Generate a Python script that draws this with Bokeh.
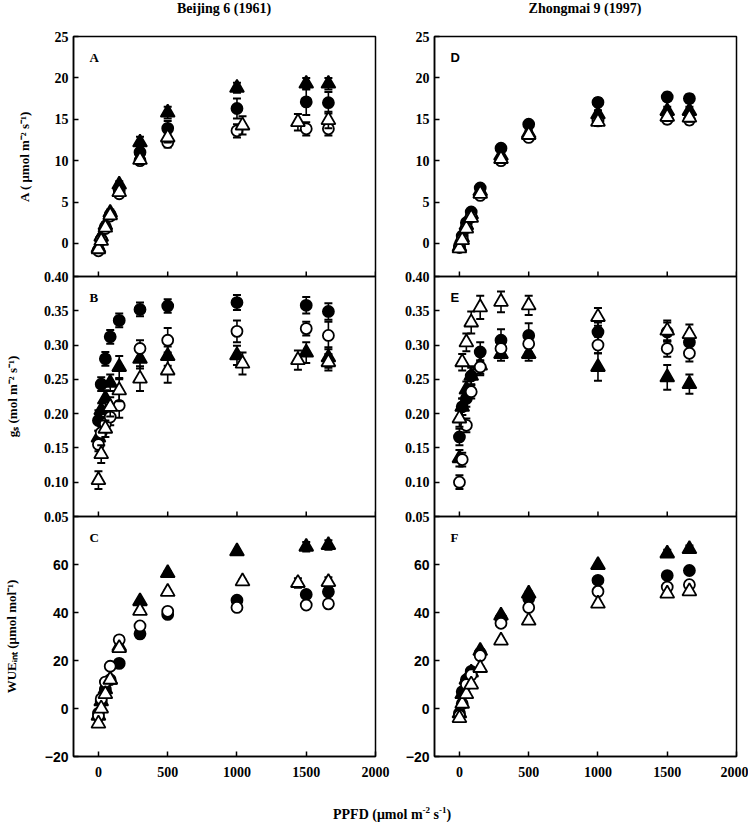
import math
from bokeh.plotting import figure
from bokeh.models import (Range1d, FixedTicker, NumeralTickFormatter, Label, Div,
                          ColumnDataSource)
from bokeh.layouts import row, column
from bokeh.embed import file_html
from bokeh.resources import INLINE

SERIF = "Liberation Serif"
SANS = "Liberation Sans"

# ---------------- data ----------------
ppfd = [0, 20, 50, 85, 150, 300, 500, 1000, 1500, 1660]
ppfd_bj_ot = [0, 20, 50, 85, 150, 300, 500, 1040, 1440, 1660]

x_ticks = [0, 500, 1000, 1500, 2000]
a_ticks = [0, 5, 10, 15, 20, 25]
gs_ticks = [0.05, 0.10, 0.15, 0.20, 0.25, 0.30, 0.35, 0.40]
wue_ticks = [-20, 0, 20, 40, 60]

titles = ["Beijing 6 (1961)", "Zhongmai 9 (1997)"]

# Beijing 6 (1961) - net photosynthesis A
bj_A_fc = [-0.8, 0.5, 2.0, 3.5, 6.4, 11.0, 13.9, 16.3, 17.1, 17.0]
bj_A_fc_err = [0.3, 0.3, 0.4, 0.4, 0.5, 0.8, 0.9, 1.2, 1.6, 1.3]
bj_A_oc = [-0.9, 0.4, 1.8, 3.3, 6.0, 10.0, 12.2, 13.6, 13.85, 13.85]
bj_A_oc_err = [0.3, 0.3, 0.4, 0.4, 0.4, 0.5, 0.6, 0.8, 0.8, 0.8]
bj_A_ft = [-0.5, 0.8, 2.2, 3.7, 7.1, 12.2, 15.8, 18.8, 19.3, 19.3]
bj_A_ft_err = [0.3, 0.3, 0.4, 0.4, 0.4, 0.7, 0.7, 0.6, 0.7, 0.7]
bj_A_ot = [-0.7, 0.3, 1.9, 3.4, 6.2, 10.1, 12.8, 14.25, 14.65, 14.9]
bj_A_ot_err = [0.3, 0.3, 0.3, 0.4, 0.4, 0.5, 0.6, 1.1, 1.0, 1.0]

# Beijing 6 (1961) - stomatal conductance gs
bj_gs_fc = [0.19, 0.243, 0.28, 0.312, 0.336, 0.352, 0.357, 0.362, 0.358, 0.349]
bj_gs_fc_err = [0.015, 0.010, 0.010, 0.010, 0.010, 0.010, 0.010, 0.011, 0.012, 0.012]
bj_gs_ft = [0.165, 0.205, 0.222, 0.245, 0.268, 0.280, 0.284, 0.285, 0.289, 0.282]
bj_gs_ft_err = [0.010, 0.010, 0.012, 0.012, 0.016, 0.014, 0.014, 0.014, 0.015, 0.015]
bj_gs_oc = [0.155, 0.172, 0.185, 0.195, 0.212, 0.295, 0.307, 0.320, 0.324, 0.314]
bj_gs_oc_err = [0.010, 0.010, 0.010, 0.012, 0.018, 0.012, 0.018, 0.016, 0.010, 0.020]
bj_gs_ot = [0.103, 0.141, 0.178, 0.210, 0.234, 0.251, 0.263, 0.273, 0.278, 0.275]
bj_gs_ot_err = [0.013, 0.013, 0.012, 0.014, 0.016, 0.018, 0.018, 0.016, 0.014, 0.012]

# Beijing 6 (1961) - intrinsic water use efficiency
bj_wue_fc = [-2.0, 3.0, 8.0, 12.0, 18.8, 31.1, 39.2, 45.1, 47.5, 48.6]
bj_wue_fc_err = [0.8, 0.8, 0.8, 0.8, 0.8, 0.8, 0.8, 0.8, 1.2, 1.2]
bj_wue_ft = [-3.0, 3.0, 8.0, 12.0, 25.9, 44.7, 56.4, 65.5, 67.4, 68.1]
bj_wue_ft_err = [0.8, 0.8, 0.8, 0.8, 0.8, 0.8, 0.8, 0.8, 2.0, 2.0]
bj_wue_oc = [-3.0, 4.0, 11.0, 17.6, 28.6, 34.4, 40.5, 42.1, 43.1, 43.6]
bj_wue_oc_err = [0.8, 0.8, 0.8, 0.8, 0.8, 0.8, 0.8, 0.8, 0.8, 0.8]
bj_wue_ot = [-6.3, 0.0, 6.0, 12.0, 25.2, 40.7, 48.6, 53.0, 52.3, 52.7]
bj_wue_ot_err = [0.8, 0.8, 0.8, 0.8, 0.8, 0.8, 0.8, 0.8, 2.0, 2.0]

# Zhongmai 9 (1997) - net photosynthesis A
zm_A_fc = [-0.3, 0.9, 2.5, 3.8, 6.7, 11.5, 14.4, 17.05, 17.7, 17.5]
zm_A_fc_err = [0.3, 0.3, 0.3, 0.3, 0.4, 0.4, 0.4, 0.5, 0.5, 0.5]
zm_A_ft = [-0.4, 0.7, 2.2, 3.5, 6.3, 10.6, 13.3, 15.6, 16.0, 16.0]
zm_A_ft_err = [0.3, 0.3, 0.3, 0.3, 0.4, 0.4, 0.4, 0.5, 0.5, 0.5]
zm_A_oc = [-0.5, 0.5, 1.9, 3.2, 5.8, 10.0, 12.8, 14.8, 15.0, 14.9]
zm_A_oc_err = [0.3, 0.3, 0.3, 0.3, 0.4, 0.4, 0.4, 0.5, 0.5, 0.5]
zm_A_ot = [-0.6, 0.4, 1.8, 3.1, 6.0, 10.2, 13.1, 14.7, 15.3, 15.2]
zm_A_ot_err = [0.3, 0.3, 0.3, 0.3, 0.4, 0.4, 0.4, 0.5, 0.5, 0.5]

# Zhongmai 9 (1997) - stomatal conductance gs
zm_gs_fc = [0.166, 0.210, 0.222, 0.255, 0.290, 0.307, 0.314, 0.319, 0.319, 0.304]
zm_gs_fc_err = [0.012, 0.012, 0.012, 0.014, 0.014, 0.016, 0.018, 0.014, 0.014, 0.014]
zm_gs_ft = [0.135, 0.210, 0.235, 0.255, 0.270, 0.287, 0.287, 0.268, 0.253, 0.243]
zm_gs_ft_err = [0.012, 0.012, 0.012, 0.012, 0.014, 0.010, 0.010, 0.020, 0.018, 0.014]
zm_gs_oc = [0.100, 0.133, 0.183, 0.232, 0.268, 0.295, 0.302, 0.300, 0.295, 0.288]
zm_gs_oc_err = [0.010, 0.010, 0.010, 0.010, 0.010, 0.010, 0.012, 0.012, 0.012, 0.012]
zm_gs_ot = [0.193, 0.275, 0.304, 0.333, 0.355, 0.363, 0.358, 0.341, 0.321, 0.316]
zm_gs_ot_err = [0.012, 0.012, 0.013, 0.016, 0.017, 0.015, 0.014, 0.013, 0.015, 0.014]

# Zhongmai 9 (1997) - intrinsic water use efficiency
zm_wue_fc = [-2.0, 7.0, 12.0, 15.5, 23.1, 37.6, 45.8, 53.4, 55.4, 57.5]
zm_wue_fc_err = [0.8, 0.8, 0.8, 0.8, 0.8, 0.8, 0.8, 0.8, 1.0, 1.0]
zm_wue_ft = [-2.0, 6.0, 12.0, 15.0, 24.0, 38.7, 47.9, 59.8, 64.6, 66.4]
zm_wue_ft_err = [0.8, 0.8, 0.8, 0.8, 0.8, 0.8, 0.8, 0.8, 1.5, 1.5]
zm_wue_oc = [-3.0, 2.0, 10.0, 14.0, 22.0, 35.5, 42.1, 48.8, 50.6, 51.6]
zm_wue_oc_err = [0.8, 0.8, 0.8, 0.8, 0.8, 0.8, 0.8, 0.8, 1.0, 1.0]
zm_wue_ot = [-4.0, 2.0, 6.0, 10.0, 16.9, 28.3, 36.6, 43.7, 47.9, 48.8]
zm_wue_ot_err = [0.8, 0.8, 0.8, 0.8, 0.8, 0.8, 0.8, 0.8, 1.0, 1.0]

# ---------------- styling ----------------
STYLE = {
    "fc": dict(marker="circle", size=11, fill_color="black"),
    "ft": dict(marker="triangle", size=14, fill_color="black"),
    "oc": dict(marker="circle", size=11, fill_color="white"),
    "ot": dict(marker="triangle", size=14, fill_color="white"),
}

FRAME_W, FRAME_H = 302, 240
X_RANGE = (-180, 2000)
BORDERS = {0: (73, 15), 1: (44, 12)}   # (left, right) per column


def add_series(p, x, y, err, kind):
    lo = [a - e for a, e in zip(y, err)]
    hi = [a + e for a, e in zip(y, err)]
    src = ColumnDataSource(dict(x=x, y=y, lo=lo, hi=hi))
    p.segment(x0="x", y0="lo", x1="x", y1="hi", source=src,
              line_color="black", line_width=1.6)
    p.scatter(x="x", y="lo", source=src, marker="dash", size=8,
              line_color="black", line_width=2)
    p.scatter(x="x", y="hi", source=src, marker="dash", size=8,
              line_color="black", line_width=2)
    st = STYLE[kind]
    p.scatter(x="x", y="y", source=src, marker=st["marker"], size=st["size"],
              fill_color=st["fill_color"], line_color="black", line_width=1.8)


def make_panel(series, yr, yticks, letter, letter_font, tick_font,
               col, rowi, ylabel=None, ylabel_standoff=20, gs_fmt=False):
    if rowi == 0:
        top, bottom = 18, 10
    elif rowi == 1:
        top, bottom = 10, 10
    else:
        top, bottom = 10, 28
    left, right = BORDERS[col]
    p = figure(frame_width=FRAME_W, frame_height=FRAME_H,
               x_range=Range1d(*X_RANGE), y_range=Range1d(*yr),
               output_backend="svg", toolbar_location=None,
               min_border_left=left, min_border_right=right,
               min_border_top=top, min_border_bottom=bottom,
               border_fill_color=None, background_fill_color=None,
               outline_line_color="black", outline_line_width=1.5)
    p.grid.visible = False

    xa = p.xaxis[0]
    if rowi == 2:
        xa.ticker = FixedTicker(ticks=x_ticks)
        xa.major_tick_in = 5
        xa.major_tick_out = 0
        xa.minor_tick_line_color = None
        xa.axis_line_width = 1.5
        xa.major_tick_line_width = 1.5
        xa.major_label_text_font = SERIF
        xa.major_label_text_font_style = "bold"
        xa.major_label_text_font_size = "14px"
        xa.major_label_text_color = "black"
        xa.major_label_standoff = 10
    else:
        # no tick labels on upper panels: draw only the inward x ticks
        xa.visible = False
        p.ray(x=x_ticks, y=[yr[0]] * len(x_ticks), length=5, length_units="screen",
              angle=math.pi / 2, line_color="black", line_width=1.5)

    ya = p.yaxis[0]
    ya.ticker = FixedTicker(ticks=yticks)
    ya.major_tick_in = 5
    ya.major_tick_out = 0
    ya.minor_tick_line_color = None
    ya.axis_line_width = 1.5
    ya.major_tick_line_width = 1.5
    ya.major_label_text_font = tick_font
    ya.major_label_text_font_style = "bold"
    ya.major_label_text_font_size = "14px"
    ya.major_label_text_color = "black"
    ya.major_label_standoff = 5
    if gs_fmt:
        ya.formatter = NumeralTickFormatter(format="0.00")
    if ylabel:
        ya.axis_label = ylabel
        ya.axis_label_text_font = SERIF
        ya.axis_label_text_font_style = "bold"
        ya.axis_label_text_font_size = "13px"
        ya.axis_label_text_color = "black"
        ya.axis_label_standoff = ylabel_standoff

    for x, y, err, kind in series:
        add_series(p, x, y, err, kind)

    p.add_layout(Label(x=X_RANGE[0], y=yr[1], x_offset=16, y_offset=-13,
                       text=letter, text_baseline="top", text_align="left",
                       text_font=letter_font, text_font_style="bold",
                       text_font_size="13px", text_color="black"))
    return p


pA = make_panel([(ppfd, bj_A_fc, bj_A_fc_err, "fc"), (ppfd, bj_A_ft, bj_A_ft_err, "ft"),
                 (ppfd, bj_A_oc, bj_A_oc_err, "oc"), (ppfd_bj_ot, bj_A_ot, bj_A_ot_err, "ot")],
                (-4, 25), a_ticks, "A", SERIF, SERIF, 0, 0,
                ylabel="A ( \u03bcmol m\u207b\u00b2 s\u207b\u00b9)", ylabel_standoff=20)
pD = make_panel([(ppfd, zm_A_fc, zm_A_fc_err, "fc"), (ppfd, zm_A_ft, zm_A_ft_err, "ft"),
                 (ppfd, zm_A_oc, zm_A_oc_err, "oc"), (ppfd, zm_A_ot, zm_A_ot_err, "ot")],
                (-4, 25), a_ticks, "D", SANS, SERIF, 1, 0)
pB = make_panel([(ppfd, bj_gs_fc, bj_gs_fc_err, "fc"), (ppfd, bj_gs_ft, bj_gs_ft_err, "ft"),
                 (ppfd, bj_gs_oc, bj_gs_oc_err, "oc"), (ppfd_bj_ot, bj_gs_ot, bj_gs_ot_err, "ot")],
                (0.05, 0.40), gs_ticks, "B", SERIF, SERIF, 0, 1,
                ylabel="g\u209b (mol m\u207b\u00b2 s\u207b\u00b9)", ylabel_standoff=21, gs_fmt=True)
pE = make_panel([(ppfd, zm_gs_fc, zm_gs_fc_err, "fc"), (ppfd, zm_gs_ft, zm_gs_ft_err, "ft"),
                 (ppfd, zm_gs_oc, zm_gs_oc_err, "oc"), (ppfd, zm_gs_ot, zm_gs_ot_err, "ot")],
                (0.05, 0.40), gs_ticks, "E", SANS, SERIF, 1, 1, gs_fmt=True)
pC = make_panel([(ppfd, bj_wue_fc, bj_wue_fc_err, "fc"), (ppfd, bj_wue_ft, bj_wue_ft_err, "ft"),
                 (ppfd, bj_wue_oc, bj_wue_oc_err, "oc"), (ppfd_bj_ot, bj_wue_ot, bj_wue_ot_err, "ot")],
                (-20, 80), wue_ticks, "C", SERIF, SANS, 0, 2,
                ylabel="WUE\u1d62\u2099\u209c (\u03bcmol mol\u207b\u00b9)", ylabel_standoff=23)
pF = make_panel([(ppfd, zm_wue_fc, zm_wue_fc_err, "fc"), (ppfd, zm_wue_ft, zm_wue_ft_err, "ft"),
                 (ppfd, zm_wue_oc, zm_wue_oc_err, "oc"), (ppfd, zm_wue_ot, zm_wue_ot_err, "ot")],
                (-20, 80), wue_ticks, "F", SERIF, SANS, 1, 2)


def title_div(text, col):
    left, right = BORDERS[col]
    return Div(text='<div style="width:%dpx; text-align:center; font-family:\'Liberation Serif\'; '
                    'font-weight:bold; font-size:14px; line-height:18px; color:black; '
                    'white-space:nowrap;">%s</div>' % (FRAME_W, text),
               width=FRAME_W, height=18, margin=(0, right, 0, left))


r0 = row(title_div(titles[0], 0), title_div(titles[1], 1), spacing=0)
r1 = row(pA, pD, spacing=0)
r2 = row(pB, pE, spacing=0, margin=(-20, 0, 0, 0))
r3 = row(pC, pF, spacing=0, margin=(-20, 0, 0, 0))

xlab = Div(text='<span style="font-family:\'Liberation Serif\'; font-weight:bold; '
                'font-size:14px; color:black; white-space:nowrap;">'
                'PPFD (&mu;mol m<sup style="font-size:9px">-2</sup> s<sup style="font-size:9px">-1</sup>)</span>',
           width=300, height=16, margin=(20, 0, 0, 333))

layout = column(r0, r1, r2, r3, xlab, spacing=0, margin=(0, 0, -14, 0))

open("out.html", "w").write(file_html(layout, INLINE))
